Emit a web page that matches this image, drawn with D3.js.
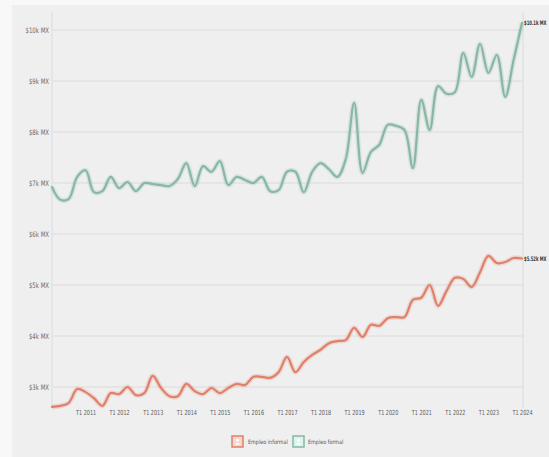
<!DOCTYPE html>
<html>
<head>
<meta charset="utf-8">
<script src="https://cdn.jsdelivr.net/npm/d3@7"></script>
<style>
  html, body { margin: 0; padding: 0; background: #f8f8f8; }
  svg { display: block; }
  text { font-family: "Liberation Sans Narrow", "DejaVu Sans Condensed", "Liberation Sans", sans-serif; }
</style>
</head>
<body>
<svg id="chart" width="549" height="457"></svg>
<script>
// ---- Data (quarterly, T1 2010 .. T1 2024), values in thousands MXN ----
const quarterYears = d3.range(2010, 2025);
const quarters = [];
quarterYears.forEach(y => [1,2,3,4].forEach(q => { if (!(y === 2024 && q > 1)) quarters.push({ y, q }); }));

const formalValues = [
  6.92, 6.67, 6.69, 7.12, 7.25, 6.82, 6.84, 7.12, 6.90, 7.02,
  6.84, 7.00, 6.98, 6.96, 6.94, 7.08, 7.39, 6.94, 7.33, 7.22,
  7.43, 6.96, 7.12, 7.06, 7.00, 7.12, 6.84, 6.86, 7.22, 7.22,
  6.82, 7.22, 7.39, 7.27, 7.12, 7.47, 8.57, 7.20, 7.61, 7.75,
  8.14, 8.12, 8.04, 7.29, 8.63, 8.04, 8.90, 8.75, 8.78, 9.55,
  9.08, 9.73, 9.16, 9.51, 8.69, 9.41, 10.14
];
const informalValues = [
  2.61, 2.63, 2.69, 2.96, 2.90, 2.78, 2.63, 2.88, 2.86, 3.00,
  2.84, 2.88, 3.22, 2.98, 2.82, 2.82, 3.06, 2.92, 2.86, 2.98,
  2.88, 2.98, 3.06, 3.04, 3.20, 3.20, 3.18, 3.29, 3.59, 3.29,
  3.49, 3.63, 3.73, 3.86, 3.90, 3.92, 4.16, 3.98, 4.22, 4.20,
  4.35, 4.37, 4.37, 4.71, 4.75, 5.00, 4.59, 4.88, 5.14, 5.12,
  4.96, 5.25, 5.57, 5.43, 5.45, 5.53, 5.52
];
const yTicks = [3, 4, 5, 6, 7, 8, 9, 10];
const yTickLabels = ["$3k MX", "$4k MX", "$5k MX", "$6k MX", "$7k MX", "$8k MX", "$9k MX", "$10k MX"];
const xTickLabels = ["T1 2011","T1 2012","T1 2013","T1 2014","T1 2015","T1 2016","T1 2017",
                     "T1 2018","T1 2019","T1 2020","T1 2021","T1 2022","T1 2023","T1 2024"];
const xTickYears = d3.range(2011, 2025);
const seriesNames = ["Empleo informal", "Empleo formal"];
const endLabels = ["$5.52k MX", "$10.1k MX"];
const colors = ["#e0806a", "#86b8a4"];

// condense helper: squeeze text horizontally
function condense(sel, factor) {
  sel.each(function () {
    const w = this.getComputedTextLength();
    d3.select(this).attr("textLength", w * factor).attr("lengthAdjust", "spacingAndGlyphs");
  });
}

// ---- Layout ----
const svg = d3.select("#chart");
svg.append("rect").attr("x", 0).attr("y", 0).attr("width", 549).attr("height", 457).attr("fill", "#f8f8f8");
svg.append("rect").attr("x", 12).attr("y", 5).attr("width", 537).attr("height", 452).attr("fill", "#efefef");

const left = 52, right = 522;
const qIndex = d => (d.y - 2010) * 4 + (d.q - 1);
const x = d3.scaleLinear().domain([0, quarters.length - 1]).range([left, right]);
const y = d3.scaleLinear().domain([3, 10]).range([387, 30]);

// grid
const grid = svg.append("g");
grid.selectAll("line.h").data(yTicks).join("line")
  .attr("x1", left).attr("x2", right + 2)
  .attr("y1", d => y(d)).attr("y2", d => y(d))
  .attr("stroke", "#dcdcdc").attr("stroke-width", 1.2);
grid.append("line").attr("x1", left).attr("x2", left).attr("y1", 12).attr("y2", 408)
  .attr("stroke", "#e2e2e2").attr("stroke-width", 1.5);
grid.append("line").attr("x1", right + 1).attr("x2", right + 1).attr("y1", 12).attr("y2", 408)
  .attr("stroke", "#e2e2e2").attr("stroke-width", 1.5);

// y axis labels
const yAxis = d3.axisLeft(y).tickValues(yTicks).tickSize(0).tickPadding(3)
  .tickFormat((d, i) => yTickLabels[i]);
const yg = svg.append("g").attr("transform", `translate(${left},0)`).call(yAxis);
yg.select(".domain").remove();
yg.selectAll("text").attr("fill", "#6a6a6a").attr("font-size", 7.5).attr("dy", "0.35em")
  .call(condense, 0.8);

// x axis labels
const xAxis = d3.axisBottom(x)
  .tickValues(xTickYears.map(yr => qIndex({ y: yr, q: 1 })))
  .tickSize(0).tickPadding(0)
  .tickFormat((d, i) => xTickLabels[i]);
const xg = svg.append("g").attr("transform", "translate(0,410)").call(xAxis);
xg.select(".domain").remove();
xg.selectAll("text").attr("fill", "#5a5a5a").attr("font-size", 7)
  .call(condense, 0.78);

// lines
const line = d3.line()
  .x((d, i) => x(i))
  .y(d => y(d))
  .curve(d3.curveCatmullRom.alpha(0.5));

const allSeries = [informalValues, formalValues];
allSeries.forEach((vals, k) => {
  svg.append("path").attr("d", line(vals)).attr("fill", "none")
    .attr("stroke", colors[k]).attr("stroke-opacity", 0.22).attr("stroke-width", 5)
    .attr("stroke-linejoin", "round");
  svg.append("path").attr("d", line(vals)).attr("fill", "none")
    .attr("stroke", colors[k]).attr("stroke-width", 2.2)
    .attr("stroke-linejoin", "round").attr("stroke-linecap", "round");
  const last = vals.length - 1;
  svg.append("text")
    .attr("transform", `translate(${x(last) + 2},${y(vals[last]) + 2.5}) scale(0.68,1)`)
    .attr("font-size", 6.2).attr("font-weight", "bold").attr("fill", "#333")
    .text(endLabels[k]);
});

// legend
const legendItems = [
  { name: seriesNames[0], color: colors[0], x: 232, tx: 248 },
  { name: seriesNames[1], color: colors[1], x: 293, tx: 308 }
];
const lg = svg.append("g");
legendItems.forEach(it => {
  const g = lg.append("g").attr("transform", `translate(${it.x},436)`);
  g.append("rect").attr("x", 0).attr("y", 0).attr("width", 11).attr("height", 11)
    .attr("fill", d3.color(it.color).brighter(0.9)).attr("fill-opacity", 0.35)
    .attr("stroke", it.color).attr("stroke-width", 1.5);
  g.append("circle").attr("cx", 5.5).attr("cy", 4.3).attr("r", 1.4).attr("fill", "#fff");
  g.append("path").attr("d", "M3,8.5 Q5.5,5 8,8.5 Z").attr("fill", "#fff");
  lg.append("text").attr("x", it.tx).attr("y", 444)
    .attr("font-size", 6).attr("fill", "#555").text(it.name)
    .call(condense, 0.9);
});
</script>
</body>
</html>
